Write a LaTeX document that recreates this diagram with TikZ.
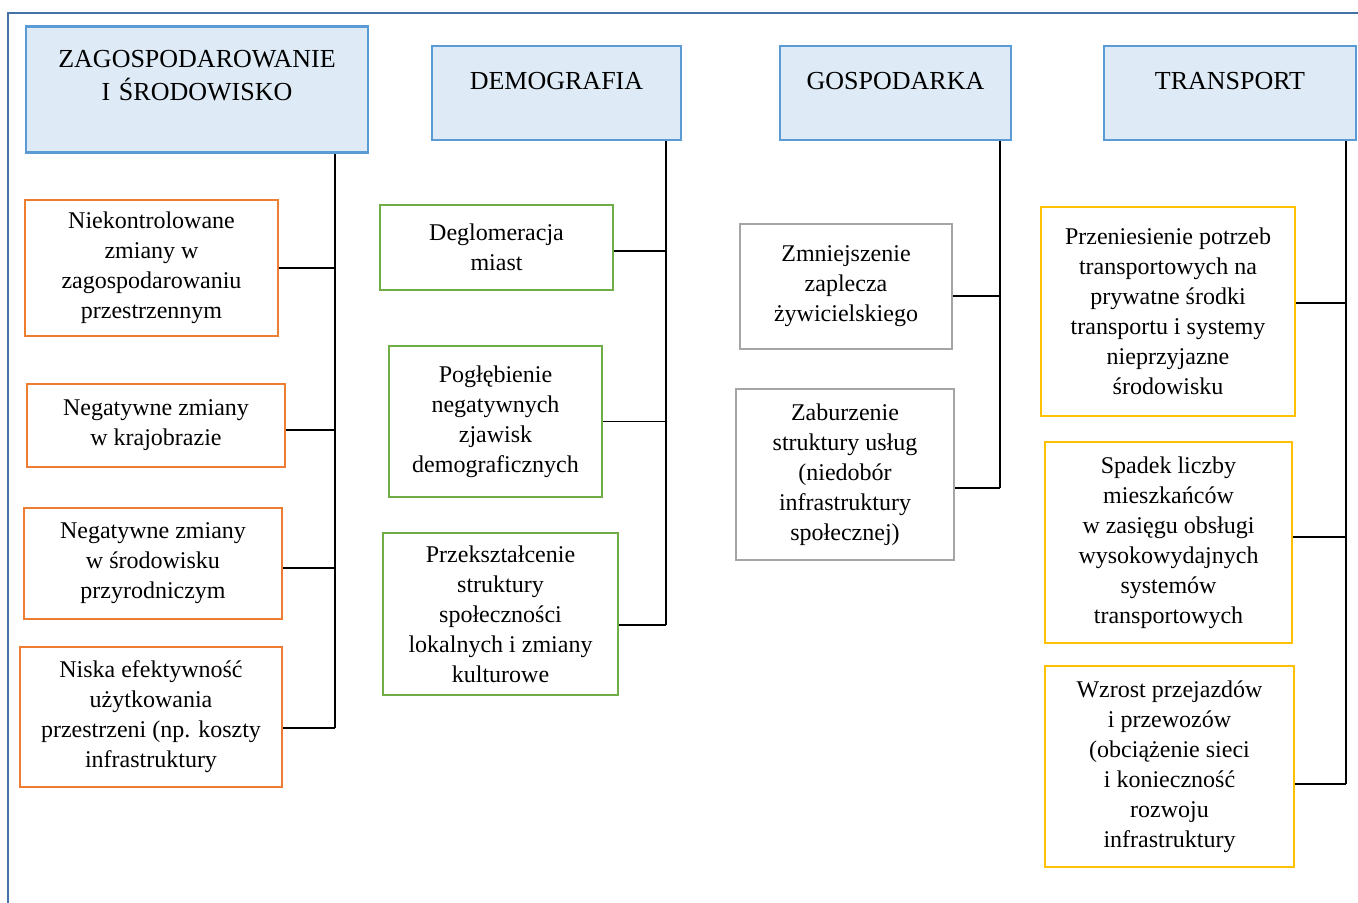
\documentclass[tikz,border=0pt]{standalone}
\usepackage{fontspec}
\setmainfont{Liberation Serif}
\usetikzlibrary{calc}
\definecolor{ramka}{RGB}{68,114,168}
\definecolor{naglowekfill}{RGB}{222,234,246}
\definecolor{naglowekline}{RGB}{91,155,213}
\definecolor{pomarancz}{RGB}{237,125,49}
\definecolor{zielony}{RGB}{112,173,71}
\definecolor{szary}{RGB}{165,165,165}
\definecolor{zolty}{RGB}{255,192,0}

\begin{document}
\begin{tikzpicture}[x=0.5pt, y=-0.5pt,
    naglowek/.style={draw=naglowekline, fill=naglowekfill, line width=1.2pt, inner xsep=0pt, inner ysep=0pt,
        align=center, font=\fontsize{13}{16.5}\selectfont},
    pole/.style={draw=#1, line width=1pt, inner sep=2pt, align=center, font=\fontsize{12}{15}\selectfont},
    link/.style={draw=black, line width=0.6pt}]
    \useasboundingbox (0,0) rectangle (1358,903);
    % ramka
    \path[draw=ramka, line width=1.2pt](8,903)to(8,13)to(1360,13);
    % naglowki
    \node[naglowek, text width=171pt, text height=20.5pt, text depth=42.5pt](h1)at(197,25.5)[anchor=north]{ZAGOSPODAROWANIE\\I ŚRODOWISKO};
    \node[naglowek, text width=124.5pt, text height=21.5pt, text depth=25.5pt](h2)at(556.5,45)[anchor=north]{DEMOGRAFIA};
    \node[naglowek, text width=115.5pt, text height=21.5pt, text depth=25.5pt](h3)at(895.5,45)[anchor=north]{GOSPODARKA};
    \node[naglowek, text width=126pt, text height=21.5pt, text depth=25.5pt](h4)at(1230,45)[anchor=north]{TRANSPORT};
    % zagospodarowanie
    \node[pole=pomarancz, minimum width=126.5pt, minimum height=68pt](o1)at(151.5,268){Niekontrolowane\\zmiany w\\zagospodarowaniu\\przestrzennym};
    \node[pole=pomarancz, minimum width=129pt, minimum height=41.5pt](o2)at(156,425.5){Negatywne zmiany\\w krajobrazie};
    \node[pole=pomarancz, minimum width=129pt, minimum height=55.5pt](o3)at(153,563.5){Negatywne zmiany\\w środowisku\\przyrodniczym};
    \node[pole=pomarancz, minimum width=131pt, minimum height=70pt](o4)at(151,717){Niska efektywność\\użytkowania\\przestrzeni (np. koszty\\infrastruktury};
    % demografia
    \node[pole=zielony, minimum width=116.5pt, minimum height=42.5pt](g1)at(496.5,247.5){Deglomeracja\\miast};
    \node[pole=zielony, minimum width=106.5pt, minimum height=75.5pt](g2)at(495.5,421.5){Pogłębienie\\negatywnych\\zjawisk\\demograficznych};
    \node[pole=zielony, minimum width=117.5pt, minimum height=81pt](g3)at(500.5,614){Przekształcenie\\struktury\\społeczności\\lokalnych i zmiany\\kulturowe};
    % gospodarka
    \node[pole=szary, minimum width=106pt, minimum height=62.5pt](s1)at(846,286.5){Zmniejszenie\\zaplecza\\żywicielskiego};
    \node[pole=szary, minimum width=109pt, minimum height=85.5pt](s2)at(845,474.5){Zaburzenie\\struktury usług\\(niedobór\\infrastruktury\\społecznej)};
    % transport
    \node[pole=zolty, minimum width=127pt, minimum height=104.5pt](y1)at(1168,311.5){Przeniesienie potrzeb\\transportowych na\\prywatne środki\\transportu i systemy\\nieprzyjazne\\środowisku};
    \node[pole=zolty, minimum width=123.5pt, minimum height=100.5pt](y2)at(1168.5,542.5){Spadek liczby\\mieszkańców\\w zasięgu obsługi\\wysokowydajnych\\systemów\\transportowych};
    \node[pole=zolty, minimum width=124.5pt, minimum height=100.5pt](y3)at(1169.5,766.5){Wzrost przejazdów\\i przewozów\\(obciążenie sieci\\i konieczność\\rozwoju\\infrastruktury};
    % pnie
    \coordinate(t1)at(335,728);
    \coordinate(t2)at(666,625);
    \coordinate(t3)at(1000,488);
    \coordinate(t4)at(1346,784);
    \path[link](h1.south -| t1)to(t1);
    \path[link](h2.south -| t2)to(t2);
    \path[link](h3.south -| t3)to(t3);
    \path[link](h4.south -| t4)to(t4);
    % galezie
    \foreach \n/\s in {o1/0,o2/-2.25,o3/-2.25,o4/-5.5}
    {
        \path[link]([yshift=\s pt]\n.east)to([yshift=\s pt]\n.east -| t1);
    }
    \foreach \n/\s in {g1/-1.75,g2/0,g3/-5.5}
    {
        \path[link]([yshift=\s pt]\n.east)to([yshift=\s pt]\n.east -| t2);
    }
    \foreach \n/\s in {s1/-4.75,s2/-6.75}
    {
        \path[link]([yshift=\s pt]\n.east)to([yshift=\s pt]\n.east -| t3);
    }
    \foreach \n/\s in {y1/4.25,y2/2.75,y3/-8.75}
    {
        \path[link]([yshift=\s pt]\n.east)to([yshift=\s pt]\n.east -| t4);
    }
\end{tikzpicture}
\end{document}
